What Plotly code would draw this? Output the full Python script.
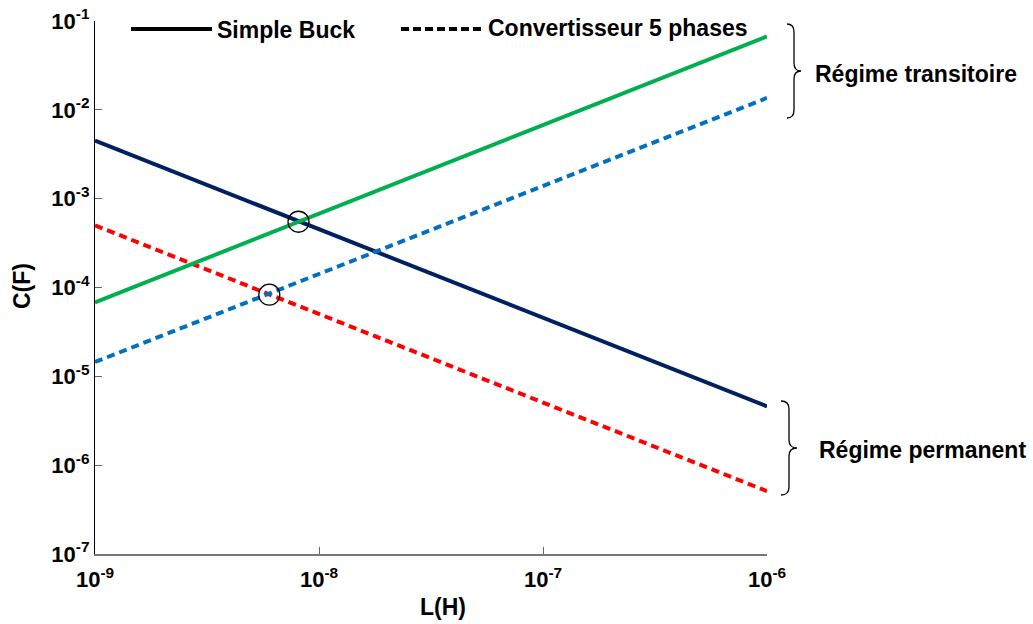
import plotly.graph_objects as go

# Data
L_range = [1e-9, 1e-6]
buck_permanent = [4.5e-3, 4.6e-6]      # navy solid
phases_permanent = [5.0e-4, 5.1e-7]    # red dashed
buck_transitoire = [6.8e-5, 6.7e-2]    # green solid
phases_transitoire = [1.45e-5, 1.36e-2]  # blue dashed
circle_L = [8.1e-9, 6.0e-9]
circle_C = [5.5e-4, 8.3e-5]
x_tickvals = [1e-9, 1e-8, 1e-7, 1e-6]
x_ticktext = ["10<sup>-9</sup>", "10<sup>-8</sup>", "10<sup>-7</sup>", "10<sup>-6</sup>"]
y_tickvals = [1e-7, 1e-6, 1e-5, 1e-4, 1e-3, 1e-2, 1e-1]
y_ticktext = ["10<sup>-7</sup>", "10<sup>-6</sup>", "10<sup>-5</sup>", "10<sup>-4</sup>",
              "10<sup>-3</sup>", "10<sup>-2</sup>", "10<sup>-1</sup>"]
legend_names = ["Simple Buck", "Convertisseur 5 phases"]

FONT = "Liberation Sans, Arial, sans-serif"
W, H = 1033, 624
OFF = 0  # page body margin removed via post_script
# plot area in screen pixels
PL, PR, PT, PB = 95, 767, 21, 554
ml, mt = PL - OFF, PT - OFF
mr, mb = W - (PR - OFF), H - (PB - OFF)
pw, ph = PR - PL, PB - PT

fig = go.Figure()
fig.add_trace(go.Scatter(x=L_range, y=buck_permanent, mode="lines",
                         line=dict(color="#002060", width=4), showlegend=False))
fig.add_trace(go.Scatter(x=L_range, y=phases_permanent, mode="lines",
                         line=dict(color="#ff0000", width=4, dash="8px,5px"), showlegend=False))
fig.add_trace(go.Scatter(x=L_range, y=buck_transitoire, mode="lines",
                         line=dict(color="#00b050", width=4), showlegend=False))
fig.add_trace(go.Scatter(x=L_range, y=phases_transitoire, mode="lines",
                         line=dict(color="#0070c0", width=4, dash="8px,5px"), showlegend=False))
fig.add_trace(go.Scatter(x=circle_L, y=circle_C, mode="markers",
                         marker=dict(symbol="circle-open", size=21, color="black",
                                     line=dict(width=1.3, color="black")), showlegend=False))


def px2paper(x, y):
    return (x - PL) / pw, (PB - y) / ph


def brace(x0, yt, yb, w):
    ym = (yt + yb) / 2
    xm = x0 + w / 2
    r = 8
    pts = [("M", [(x0, yt)]),
           ("Q", [(xm, yt), (xm, yt + r)]),
           ("L", [(xm, ym - r)]),
           ("Q", [(xm, ym), (x0 + w, ym)]),
           ("Q", [(xm, ym), (xm, ym + r)]),
           ("L", [(xm, yb - r)]),
           ("Q", [(xm, yb), (x0, yb)])]
    s = ""
    for cmd, coords in pts:
        s += cmd + " " + " ".join("%.5f,%.5f" % px2paper(a, b) for a, b in coords) + " "
    return s.strip()


def seg(x0, x1, y, dash=None):
    a = px2paper(x0, y)
    b = px2paper(x1, y)
    ln = dict(color="black", width=4)
    if dash:
        ln["dash"] = dash
    return dict(type="line", xref="paper", yref="paper", x0=a[0], y0=a[1], x1=b[0], y1=b[1], line=ln)


shapes = [
    dict(type="path", xref="paper", yref="paper", path=brace(787, 24, 118, 14),
         line=dict(color="black", width=1.3)),
    dict(type="path", xref="paper", yref="paper", path=brace(781, 401, 495, 16),
         line=dict(color="black", width=1.3)),
    seg(131, 212, 29),
    seg(401, 483, 29, "8px,4px"),
]


def ann(text, x, y, xanchor="left", size=23, angle=0):
    p = px2paper(x, y)
    return dict(text="<b>%s</b>" % text, xref="paper", yref="paper", x=p[0], y=p[1],
                xanchor=xanchor, yanchor="middle", showarrow=False, textangle=angle,
                font=dict(family=FONT, size=size, color="black"))


annotations = [
    ann("Régime transitoire", 813, 74),
    ann("Régime permanent", 817, 450),
    ann(legend_names[0], 215, 30),
    ann(legend_names[1], 486, 28),
    ann("L(H)", 443, 607, xanchor="center"),
    ann("C(F)", 22, 286, xanchor="center", angle=-90),
]

fig.update_layout(
    width=W, height=H,
    margin=dict(l=ml, r=mr, t=mt, b=mb),
    paper_bgcolor="white", plot_bgcolor="white",
    font=dict(family=FONT, color="black"),
    shapes=shapes, annotations=annotations, showlegend=False,
    xaxis=dict(type="log", range=[-9, -6], tickvals=x_tickvals, ticktext=x_ticktext,
               ticks="inside", ticklen=7, tickcolor="#666", showgrid=False, zeroline=False,
               showline=True, linecolor="#777", linewidth=1.5, automargin=False,
               ticklabeloverflow="allow", ticklabelstandoff=5,
               tickfont=dict(family=FONT, size=22, color="black", weight="bold")),
    yaxis=dict(type="log", range=[-7, -1], tickvals=y_tickvals, ticktext=y_ticktext,
               ticks="inside", ticklen=7, tickcolor="#666", showgrid=False, zeroline=False,
               showline=True, linecolor="black", linewidth=1.2, automargin=False,
               ticklabeloverflow="allow",
               tickfont=dict(family=FONT, size=22, color="black", weight="bold")),
)

fig.write_html("out.html", config={"displayModeBar": False},
               post_script="document.body.style.margin='0';document.body.style.overflow='hidden';")
